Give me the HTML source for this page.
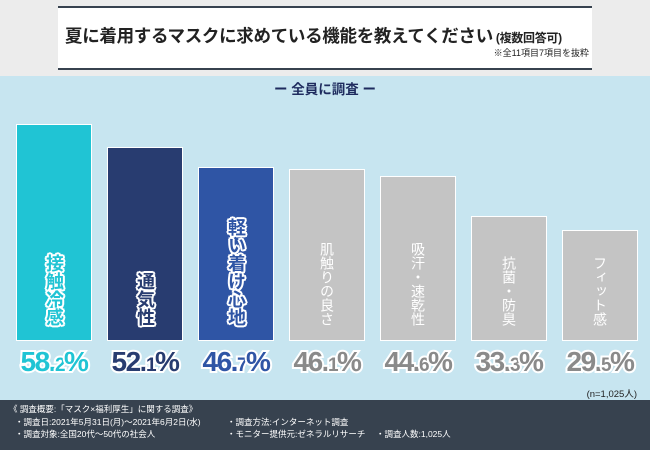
<!DOCTYPE html>
<html><head><meta charset="utf-8"><style>
*{margin:0;padding:0;box-sizing:border-box}
body{width:650px;height:450px;overflow:hidden;position:relative;background:#ececec;font-family:"Liberation Sans","Noto Sans CJK JP",sans-serif}
.title{position:absolute;top:6px;height:64px;background:#fff;border-top:2px solid #37424f;border-bottom:2px solid #37424f}
.t1{position:absolute;left:7px;top:15px;font-size:17.5px;font-weight:bold;color:#222;white-space:nowrap;letter-spacing:-0.3px}
.t1 small{font-size:12px;margin-left:3px}
.t2{position:absolute;right:3px;top:38px;font-size:9px;color:#222}
.blue{position:absolute;left:0;top:76px;width:650px;height:324px;background:#c7e5f0}
.sub{position:absolute;left:0;width:650px;top:78px;text-align:center;font-size:13.5px;font-weight:bold;color:#1e2b5e}
.bar{position:absolute;border:1.5px solid #fff;bottom:109px;width:76px}
.lab{position:absolute;left:0;width:100%;bottom:14px;display:flex;justify-content:center}
.lab span{writing-mode:vertical-rl;text-orientation:upright;font-size:18px;font-weight:bold;line-height:1;letter-spacing:0;
text-shadow:2px 0 0 #fff,-2px 0 0 #fff,0 2px 0 #fff,0 -2px 0 #fff,1.5px 1.5px 0 #fff,-1.5px 1.5px 0 #fff,1.5px -1.5px 0 #fff,-1.5px -1.5px 0 #fff}
.g .lab span{text-shadow:none;font-weight:normal;font-size:14px;color:#fff}
.pct{position:absolute;top:346px;width:90px;text-align:center;font-size:28px;font-weight:bold;paint-order:stroke fill;-webkit-text-stroke:4px #fff;letter-spacing:-1.5px}
.pct small{font-size:19px}
.n{position:absolute;right:13px;top:386px;font-size:9.5px;color:#222}
.foot{position:absolute;left:0;top:400px;width:650px;height:50px;background:#37424f;color:#fff;font-size:8.5px;line-height:12.5px;padding:3px 0 0 9px;white-space:nowrap}
.foot div{position:relative}
</style></head><body>
<div class="title" style="left:58px;width:534px">
<div class="t1">夏に着用するマスクに求めている機能を教えてください<small>(複数回答可)</small></div>
<div class="t2">※全11項目7項目を抜粋</div></div>
<div class="blue"></div>
<div class="sub">ー 全員に調査 ー</div>

<div class="bar" style="left:16px;top:124px;background:#20c4d4"><div class="lab"><span style="color:#20c4d4">接触冷感</span></div></div>
<div class="bar" style="left:107px;top:147px;background:#283c70"><div class="lab"><span style="color:#283c70">通気性</span></div></div>
<div class="bar" style="left:198px;top:167px;background:#2f55a5"><div class="lab"><span style="color:#2f55a5">軽い着け心地</span></div></div>
<div class="bar g" style="left:289px;top:169px;background:#c4c4c4"><div class="lab"><span>肌触りの良さ</span></div></div>
<div class="bar g" style="left:380px;top:176px;background:#c4c4c4"><div class="lab"><span>吸汗・速乾性</span></div></div>
<div class="bar g" style="left:471px;top:216px;background:#c4c4c4"><div class="lab"><span>抗菌・防臭</span></div></div>
<div class="bar g" style="left:562px;top:230px;background:#c4c4c4"><div class="lab"><span>フィット感</span></div></div>

<div class="pct" style="left:9px;color:#20c4d4">58.<small>2</small>%</div>
<div class="pct" style="left:100px;color:#283c70">52.<small>1</small>%</div>
<div class="pct" style="left:191px;color:#2f55a5">46.<small>7</small>%</div>
<div class="pct" style="left:282px;color:#8a8a8a">46.<small>1</small>%</div>
<div class="pct" style="left:373px;color:#8a8a8a">44.<small>6</small>%</div>
<div class="pct" style="left:464px;color:#8a8a8a">33.<small>3</small>%</div>
<div class="pct" style="left:555px;color:#8a8a8a">29.<small>5</small>%</div>
<div class="n">(n=1,025人)</div>

<div class="foot">
<div>《 調査概要:「マスク×福利厚生」に関する調査》</div>
<div style="left:6px">・調査日:2021年5月31日(月)～2021年6月2日(水)<span style="position:absolute;left:212px">・調査方法:インターネット調査</span></div>
<div style="left:6px">・調査対象:全国20代～50代の社会人<span style="position:absolute;left:212px">・モニター提供元:ゼネラルリサーチ</span><span style="position:absolute;left:361px">・調査人数:1,025人</span></div>
</div>
</body></html>
